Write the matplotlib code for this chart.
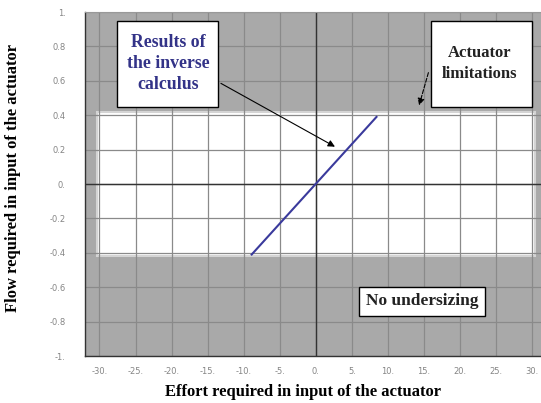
import numpy as np
import matplotlib.pyplot as plt
from matplotlib.patches import Rectangle

# Data
effort = [-8.9, 8.4]          # effort required (x)
flow = [-0.41, 0.39]          # flow required (y)
effort_limit = 30.3           # actuator limitations (half widths)
flow_limit = 0.42

x_ticks = np.arange(-30, 31, 5)
y_ticks = np.round(np.arange(-1, 1.01, 0.2), 1)
x_ticklabels = [f"{int(v)}." for v in x_ticks]
y_ticklabels = ["-1.", "-0.8", "-0.6", "-0.4", "-0.2", "0.", "0.2", "0.4", "0.6", "0.8", "1."]

fig = plt.figure(figsize=(5.41, 4.03), dpi=100)
fig.patch.set_facecolor('white')
ax = fig.add_axes([85 / 541, 1 - 356 / 403, 1 - 85 / 541, (356 - 12) / 403])
ax.set_facecolor('#a9a9a9')
ax.set_xlim(-32, 31.2)
ax.set_ylim(-1, 1)

# white feasible region
ax.add_patch(Rectangle((-effort_limit, -flow_limit), 2 * effort_limit, 2 * flow_limit,
                       facecolor='white', edgecolor='#d4d4d4', linewidth=1.5, zorder=0.2))

ax.set_axisbelow(True)
ax.set_xticks(x_ticks)
ax.set_xticklabels(x_ticklabels)
ax.set_yticks(y_ticks)
ax.set_yticklabels(y_ticklabels)
ax.grid(True, color='#8a8a8a', linewidth=0.9)
ax.tick_params(length=0, labelsize=6, labelcolor='#858585')
ax.tick_params(axis='y', pad=14)
ax.tick_params(axis='x', pad=8)

ax.axhline(0, color='#333333', linewidth=1.0, zorder=1)
ax.axvline(0, color='#333333', linewidth=1.0, zorder=1)

for s in ['left', 'bottom']:
    ax.spines[s].set_color('#333333')
    ax.spines[s].set_linewidth(1.0)
ax.spines['top'].set_color('#999999')
ax.spines['right'].set_visible(False)

ax.plot(effort, flow, color='#3a3a9c', linewidth=1.5, zorder=3)

serif = ['Liberation Serif', 'DejaVu Serif']

# annotation boxes
ax.add_patch(Rectangle((-27.5, 0.448), 14.0, 0.50, facecolor='white',
                       edgecolor='black', linewidth=1.0, zorder=4))
ax.text(-20.5, 0.70, "Results of\nthe inverse\ncalculus", ha='center', va='center',
        fontsize=12.8, fontweight='bold', color='#333388', family=serif,
        linespacing=1.3, zorder=5)
ax.annotate("", xy=(2.98, 0.209), xytext=(-13.5, 0.593),
            arrowprops=dict(arrowstyle='-|>', color='black', lw=0.8,
                            mutation_scale=10), zorder=4)

ax.add_patch(Rectangle((16.0, 0.448), 13.9, 0.50, facecolor='white',
                       edgecolor='black', linewidth=1.0, zorder=4))
ax.text(22.7, 0.70, "Actuator\nlimitations", ha='center', va='center',
        fontsize=12, fontweight='bold', color='#222222', family=serif,
        linespacing=1.4, zorder=5)
ax.annotate("", xy=(14.2, 0.442), xytext=(15.7, 0.663),
            arrowprops=dict(arrowstyle='-|>', color='black', lw=0.8,
                            linestyle='--', mutation_scale=10), zorder=4)

ax.add_patch(Rectangle((6.0, -0.767), 17.5, 0.168, facecolor='white',
                       edgecolor='black', linewidth=1.0, zorder=4))
ax.text(14.75, -0.683, "No undersizing", ha='center', va='center',
        fontsize=12.5, fontweight='bold', color='#222222', family=serif, zorder=5)

ax.set_xlabel("Effort required in input of the actuator", fontsize=12,
              fontweight='bold', family=serif)
ax.set_ylabel("Flow required in input of the actuator", fontsize=12,
              fontweight='bold', family=serif)
ax.xaxis.set_label_coords(0.478, -0.081)
ax.yaxis.set_label_coords(-0.14, 0.517)

fig.savefig('out.png', dpi=100)
